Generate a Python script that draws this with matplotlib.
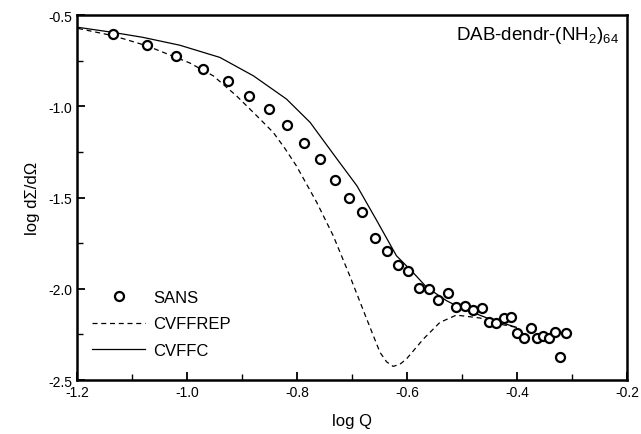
import matplotlib
matplotlib.use("Agg")
import matplotlib.pyplot as plt
from matplotlib.ticker import MultipleLocator, FormatStrFormatter

plt.rcParams['font.family'] = ['Liberation Sans', 'DejaVu Sans']
plt.rcParams['mathtext.fontset'] = 'custom'
plt.rcParams['mathtext.rm'] = 'Liberation Sans'

# SANS data
sans_x = [-1.134, -1.072, -1.019, -0.970, -0.925, -0.887, -0.851, -0.818, -0.787,
          -0.758, -0.730, -0.706, -0.682, -0.658, -0.637, -0.617, -0.598, -0.578,
          -0.560, -0.543, -0.526, -0.510, -0.495, -0.479, -0.464, -0.451, -0.438,
          -0.424, -0.411, -0.399, -0.387, -0.375, -0.364, -0.353, -0.342, -0.331,
          -0.322, -0.311]
sans_y = [-0.604, -0.663, -0.726, -0.798, -0.861, -0.944, -1.013, -1.101, -1.203,
          -1.289, -1.402, -1.501, -1.581, -1.720, -1.795, -1.868, -1.904, -1.998,
          -2.003, -2.060, -2.025, -2.102, -2.096, -2.118, -2.107, -2.184, -2.189,
          -2.162, -2.156, -2.244, -2.272, -2.215, -2.272, -2.261, -2.270, -2.239,
          -2.372, -2.242]

# CVFFREP model curve
rep_x = [-1.198, -1.134, -1.073, -1.019, -0.995, -0.952, -0.910, -0.873, -0.843,
         -0.822, -0.801, -0.764, -0.734, -0.704, -0.673, -0.649, -0.637, -0.625,
         -0.613, -0.601, -0.570, -0.540, -0.510, -0.467, -0.437, -0.401]
rep_y = [-0.573, -0.613, -0.668, -0.733, -0.762, -0.833, -0.942, -1.052, -1.143,
         -1.230, -1.326, -1.526, -1.709, -1.928, -2.166, -2.348, -2.400, -2.425,
         -2.414, -2.385, -2.275, -2.184, -2.144, -2.160, -2.190, -2.211]

# CVFFC model curve
cvffc_x = [-1.198, -1.134, -1.080, -1.013, -0.940, -0.879, -0.819, -0.776, -0.728,
           -0.691, -0.655, -0.619, -0.589, -0.564, -0.528, -0.504, -0.449, -0.401]
cvffc_y = [-0.567, -0.595, -0.622, -0.665, -0.732, -0.833, -0.960, -1.088, -1.285,
           -1.435, -1.625, -1.819, -1.910, -1.992, -2.065, -2.102, -2.166, -2.211]

fig = plt.figure(figsize=(6.41, 4.35), dpi=100)
ax = fig.add_axes([0.120, 0.124, 0.858, 0.839])

ax.plot(sans_x, sans_y, 'o', mfc='white', mec='black', mew=1.6, ms=6.5,
        linestyle='none', label='SANS', zorder=3)
ax.plot(rep_x, rep_y, color='black', lw=0.9, linestyle=(0, (4, 3)), label='CVFFREP')
ax.plot(cvffc_x, cvffc_y, color='black', lw=0.9, label='CVFFC')

ax.set_xlim(-1.2, -0.2)
ax.set_ylim(-2.5, -0.5)
ax.xaxis.set_major_locator(MultipleLocator(0.2))
ax.xaxis.set_minor_locator(MultipleLocator(0.1))
ax.yaxis.set_major_locator(MultipleLocator(0.5))
ax.yaxis.set_minor_locator(MultipleLocator(0.25))
ax.xaxis.set_major_formatter(FormatStrFormatter('%.1f'))
ax.yaxis.set_major_formatter(FormatStrFormatter('%.1f'))
ax.tick_params(which='both', direction='in', top=False, right=False, labelsize=10)
ax.tick_params(which='major', length=6, width=1.3)
ax.tick_params(which='minor', length=4, width=1.0)
for s in ax.spines.values():
    s.set_linewidth(1.8)

ax.set_xlabel('log Q', fontsize=12, labelpad=10)
ax.set_ylabel('log d\u03a3/d\u03a9', fontsize=12, labelpad=6)

ax.text(0.985, 0.975, r'DAB-dendr-(NH$_2$)$_{64}$', transform=ax.transAxes,
        ha='right', va='top', fontsize=13.5)

ax.legend(loc='lower left', bbox_to_anchor=(0.0, 0.02), frameon=False,
          fontsize=12, handlelength=3.2, labelspacing=0.68, handletextpad=0.5)

fig.savefig('out.png', dpi=100)
